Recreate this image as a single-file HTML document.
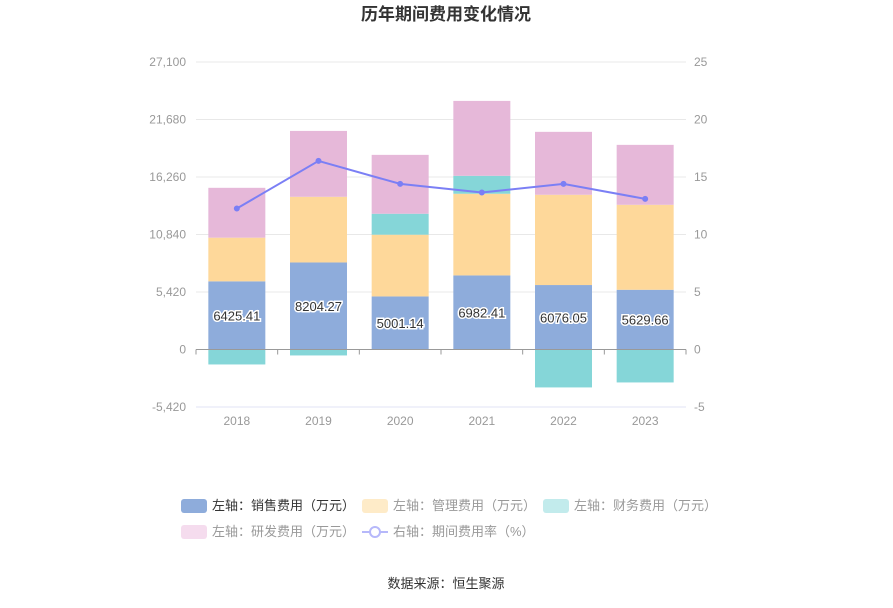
<!DOCTYPE html>
<html><head><meta charset="utf-8"><style>
body{margin:0;background:#fff;font-family:"Liberation Sans","Noto Sans CJK SC",sans-serif;}
svg text{font-family:"Liberation Sans","Noto Sans CJK SC",sans-serif;}
</style></head><body>
<svg id="c" width="893" height="603" xmlns="http://www.w3.org/2000/svg">
<text x="446" y="20" text-anchor="middle" font-size="17" font-weight="bold" fill="#333">历年期间费用变化情况</text>
<g id="grid"></g><g id="bars"></g><g id="line"></g><g id="axes"></g>
<g font-size="13">
<g><rect x="181" y="499" width="26" height="14" rx="3" fill="#8eacdb"/><text x="212" y="510" fill="#333">左轴：销售费用（万元）</text></g>
<g><rect x="362" y="499" width="26" height="14" rx="3" fill="#feebc8"/><text x="393" y="510" fill="#999">左轴：管理费用（万元）</text></g>
<g><rect x="543" y="499" width="26" height="14" rx="3" fill="#c2ebec"/><text x="574" y="510" fill="#999">左轴：财务费用（万元）</text></g>
<g><rect x="181" y="525" width="26" height="14" rx="3" fill="#f5dcee"/><text x="212" y="536" fill="#999">左轴：研发费用（万元）</text></g>
<g><line x1="362" y1="532" x2="388" y2="532" stroke="#b6b8fa" stroke-width="2"/><circle cx="375" cy="532" r="5" fill="#fff" stroke="#b6b8fa" stroke-width="2"/><text x="393" y="536" fill="#999">右轴：期间费用率（%）</text></g>
</g>
<text x="446" y="588" text-anchor="middle" font-size="13" fill="#333">数据来源：恒生聚源</text>
</svg>
<script>
const years=["2018","2019","2020","2021","2022","2023"];
const sales=[6425.41,8204.27,5001.14,6982.41,6076.05,5629.66];
const mgmt=[4115,6190,5820,7700,8510,8010];
const finance=[-1410,-560,1976,1690,-3575,-3105];
const rnd=[4700,6210,5550,7060,5930,5650];
const rate=[12.26,16.4,14.4,13.65,14.4,13.1];
const leftTicks=[-5420,0,5420,10840,16260,21680,27100];
const rightTicks=[-5,0,5,10,15,20,25];
const NS="http://www.w3.org/2000/svg";
const X0=196,X1=686,YT=62,YB=407;
const yL=v=>YB-(v+5420)/(32520)*(YB-YT);
const yR=v=>YB-(v+5)/30*(YB-YT);
const bw=(X1-X0)/years.length;
const xc=i=>X0+bw*(i+0.5);
function mk(tag,attrs,parent){const e=document.createElementNS(NS,tag);for(const k in attrs)e.setAttribute(k,attrs[k]);document.getElementById(parent).appendChild(e);return e;}
leftTicks.forEach((t,i)=>{
 const y=yL(t);
 if(t!==0){const g=mk('line',{x1:X0,x2:X1,y1:y,y2:y,stroke:t===-5420?'#e0e3f5':'#e8e8e8','stroke-width':1},'grid');
 
 }
 const tl=mk('text',{x:186,y:y+4,'text-anchor':'end','font-size':12,fill:'#999'},'axes');tl.textContent=t.toLocaleString('en-US');
 
 
});
rightTicks.forEach(t=>{
 const tr=mk('text',{x:694,y:yR(t)+4,'font-size':12,fill:'#999'},'axes');tr.textContent=t;
 
 
});
const z=yL(0);
const zl=mk('line',{x1:X0,x2:X1,y1:z,y2:z,stroke:'#999','stroke-width':1},'axes');


for(let i=0;i<=years.length;i++){const tk=mk('line',{x1:X0+bw*i,x2:X0+bw*i,y1:z,y2:z+5,stroke:'#999'},'axes');
 
 }
years.forEach((yr,i)=>{
 const w=57,x=xc(i)-w/2;
 let pos=0,neg=0;
 const series=[[sales[i],'#8eacdb','bar-sales'],[mgmt[i],'#fed89a','bar-management'],[finance[i],'#85d6d8','bar-finance'],[rnd[i],'#e6b8d9','bar-rnd']];
 series.forEach(([v,c,n])=>{
  let a,b;
  if(v>=0){a=pos;b=pos+v;pos=b;}else{a=neg;b=neg+v;neg=b;}
  const r=mk('rect',{x:x,y:Math.min(yL(a),yL(b)),width:w,height:Math.abs(yL(a)-yL(b)),fill:c},'bars');
  
  
 });
 const lb=mk('text',{x:xc(i),y:(yL(0)+yL(sales[i]))/2+5,'text-anchor':'middle','font-size':13,fill:'#333',stroke:'#fff','stroke-width':3,'paint-order':'stroke'},'bars');
 lb.textContent=sales[i].toFixed(2);
 
 
 const xl=mk('text',{x:xc(i),y:425,'text-anchor':'middle','font-size':12,fill:'#999'},'axes');xl.textContent=yr;
 
 
});
const pl=mk('polyline',{points:rate.map((v,i)=>xc(i)+','+yR(v)).join(' '),fill:'none',stroke:'#7b7ff5','stroke-width':2},'line');


rate.forEach((v,i)=>{const p=mk('circle',{cx:xc(i),cy:yR(v),r:2.5,fill:'#7b7ff5',stroke:'#7b7ff5'},'line');
 
 });
</script>
</body></html>
